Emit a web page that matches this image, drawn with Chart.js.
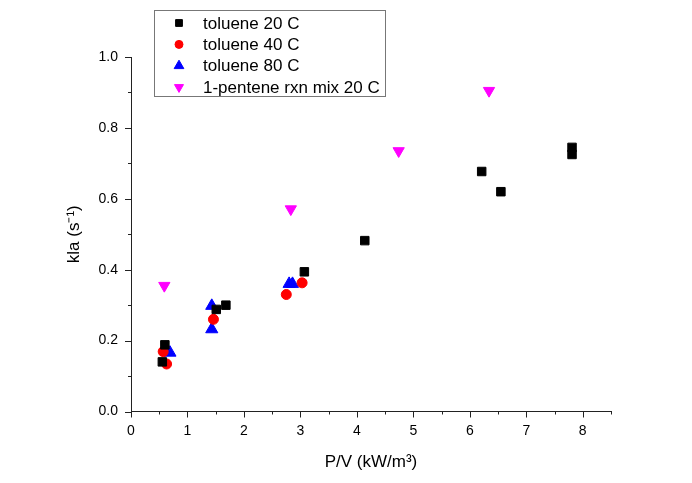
<!DOCTYPE html>
<html>
<head>
<meta charset="utf-8">
<script src="https://cdn.jsdelivr.net/npm/chart.js@4/dist/chart.umd.min.js"></script>
<style>
  body { margin: 0; background: #fff; }
  #wrap { width: 692px; height: 483px; }
</style>
</head>
<body>
<div id="wrap"><canvas id="kla" width="692" height="483"></canvas></div>
<script>
// values
var seriesNames = ['toluene 20 C', 'toluene 40 C', 'toluene 80 C', '1-pentene rxn mix 20 C'];

var tol20x = [0.60, 0.555, 1.51, 1.68, 3.07, 4.14, 6.21, 6.55, 7.81, 7.81];
var tol20y = [0.188, 0.140, 0.288, 0.300, 0.394, 0.482, 0.677, 0.620, 0.745, 0.725];

var tol40x = [0.57, 0.63, 1.46, 2.75, 3.03];
var tol40y = [0.169, 0.134, 0.260, 0.330, 0.363];

var tol80x = [0.69, 1.43, 1.43, 2.80, 2.86];
var tol80y = [0.166, 0.298, 0.232, 0.360, 0.360];

var pentx = [0.59, 2.83, 4.74, 6.34];
var penty = [0.355, 0.571, 0.735, 0.905];

var xTicks = [0, 1, 2, 3, 4, 5, 6, 7, 8];
var yTicks = [0.0, 0.2, 0.4, 0.6, 0.8, 1.0];

function pts(xs, ys) {
    return xs.map(function (x, i) { return { x: x, y: ys[i] }; });
}

var FONT = "'Liberation Sans', Arial, sans-serif";
var AXIS_COLOR = '#222';

// major / minor tick marks drawn through the scales
var tickMarks = {
    id: 'tickMarks',
    afterDraw: function (chart) {
        var ctx = chart.ctx;
        var xs = chart.scales.x, ys = chart.scales.y;
        var area = chart.chartArea;
        ctx.save();
        ctx.strokeStyle = AXIS_COLOR;
        ctx.lineWidth = 1;
        ctx.beginPath();
        for (var v = 0; v <= 8.5001; v += 0.5) {
            var px = Math.round(xs.getPixelForValue(v)) + 0.5;
            var len = Math.abs(v - Math.round(v)) < 1e-6 ? 6 : 3;
            ctx.moveTo(px, area.bottom);
            ctx.lineTo(px, area.bottom + len);
        }
        for (var k = 0; k <= 10; k++) {
            var val = k / 10;
            var py = Math.round(ys.getPixelForValue(val)) + 0.5;
            var l2 = k % 2 === 0 ? 6 : 3;
            ctx.moveTo(area.left, py);
            ctx.lineTo(area.left - l2, py);
        }
        ctx.stroke();
        ctx.restore();
    }
};

// framed legend in the top left
var boxLegend = {
    id: 'boxLegend',
    afterDraw: function (chart) {
        var ctx = chart.ctx;
        ctx.save();
        ctx.fillStyle = '#fff';
        ctx.fillRect(154.5, 10.5, 231, 86);
        ctx.strokeStyle = '#777';
        ctx.lineWidth = 1;
        ctx.strokeRect(154.5, 10.5, 231, 86);
        ctx.font = '17px ' + FONT;
        ctx.textBaseline = 'middle';
        ctx.textAlign = 'left';
        chart.data.datasets.forEach(function (ds, i) {
            var y = 23 + i * 21.4;
            ctx.fillStyle = ds.backgroundColor;
            ctx.strokeStyle = ds.borderColor;
            Chart.helpers.drawPoint(ctx, {
                pointStyle: ds.pointStyle,
                radius: ds.pointRadius * 0.8,
                rotation: ds.rotation || 0,
                borderWidth: 1
            }, 179, y);
            ctx.fillStyle = '#000';
            ctx.fillText(ds.label, 203, y + 1);
        });
        ctx.restore();
    }
};

var whiteBg = {
    id: 'whiteBg',
    beforeDraw: function (chart) {
        var ctx = chart.ctx;
        ctx.save();
        ctx.fillStyle = '#fff';
        ctx.fillRect(0, 0, chart.width, chart.height);
        ctx.restore();
    }
};

var chart_kla = new Chart(document.getElementById('kla'), {
    type: 'scatter',
    data: {
        datasets: [
            {
                label: seriesNames[0],
                data: pts(tol20x, tol20y),
                pointStyle: 'rect',
                pointRadius: 6,
                backgroundColor: '#000000',
                borderColor: '#000000',
                borderWidth: 1
            },
            {
                label: seriesNames[1],
                data: pts(tol40x, tol40y),
                pointStyle: 'circle',
                pointRadius: 5,
                backgroundColor: '#ff0000',
                borderColor: '#ff0000',
                borderWidth: 1
            },
            {
                label: seriesNames[2],
                data: pts(tol80x, tol80y),
                pointStyle: 'triangle',
                pointRadius: 7,
                backgroundColor: '#0000ff',
                borderColor: '#0000ff',
                borderWidth: 1
            },
            {
                label: seriesNames[3],
                data: pts(pentx, penty),
                pointStyle: 'triangle',
                rotation: 180,
                pointRadius: 6.5,
                backgroundColor: '#ff00ff',
                borderColor: '#ff00ff',
                borderWidth: 1
            }
        ]
    },
    options: {
        animation: false,
        responsive: false,
        events: [],
        layout: {
            padding: { left: 0, right: 81, top: 57, bottom: 0 }
        },
        plugins: {
            legend: { display: false },
            tooltip: { enabled: false }
        },
        scales: {
            x: {
                type: 'linear',
                min: 0,
                max: 8.5,
                afterBuildTicks: function (scale) {
                    scale.ticks = xTicks.map(function (v) { return { value: v }; });
                },
                afterFit: function (scale) { scale.height = 71.5; },
                grid: { display: false, drawTicks: false },
                border: { display: true, color: AXIS_COLOR, width: 1 },
                ticks: {
                    padding: 11,
                    color: '#000',
                    font: { family: FONT, size: 14 },
                    maxRotation: 0,
                    callback: function (v) { return String(v); }
                },
                title: {
                    display: true,
                    text: 'P/V (kW/m\u00B3)',
                    color: '#000',
                    font: { family: FONT, size: 17 },
                    padding: { top: 0, bottom: 10 }
                }
            },
            y: {
                type: 'linear',
                min: 0,
                max: 1.0,
                afterBuildTicks: function (scale) {
                    scale.ticks = yTicks.map(function (v) { return { value: v }; });
                },
                afterFit: function (scale) { scale.width = 131; },
                grid: { display: false, drawTicks: false },
                border: { display: true, color: AXIS_COLOR, width: 1 },
                ticks: {
                    padding: 13,
                    color: '#000',
                    font: { family: FONT, size: 14 },
                    callback: function (v) { return Number(v).toFixed(1); }
                },
                title: {
                    display: true,
                    text: 'kla (s\u207B\u00B9)',
                    color: '#000',
                    font: { family: FONT, size: 17 },
                    padding: { top: 64, bottom: 0 }
                }
            }
        }
    },
    plugins: [whiteBg, tickMarks, boxLegend]
});
</script>
</body>
</html>
